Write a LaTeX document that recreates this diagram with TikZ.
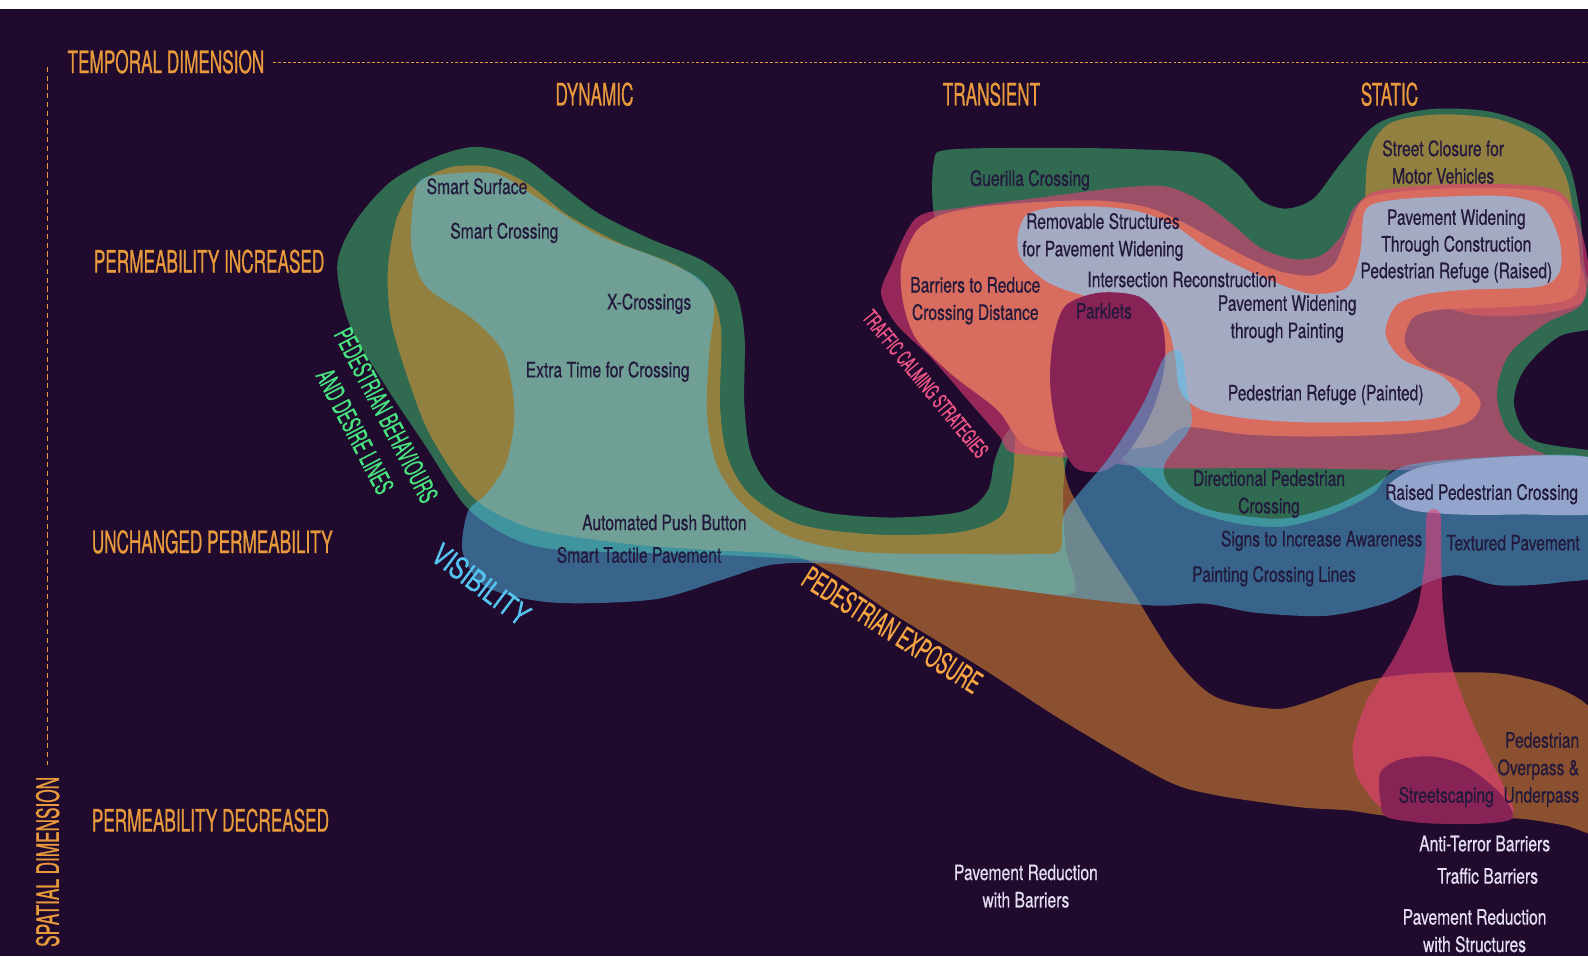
\documentclass[tikz,border=0pt]{standalone}
\usepackage{fontspec}
\setmainfont{TeX Gyre Heros}
\newfontfamily\capfont{TeX Gyre Heros}[FakeStretch=0.556, FakeBold=0.6]
\newfontfamily\txtfont{TeX Gyre Heros}[FakeStretch=0.735, FakeBold=0.5]
\definecolor{bgpurple}{RGB}{32,10,45}
\definecolor{axisorange}{RGB}{232,154,60}
\definecolor{behgreen}{RGB}{68,224,126}
\definecolor{expoorange}{RGB}{245,150,50}
\definecolor{visblue}{RGB}{80,190,235}
\definecolor{calmpink}{RGB}{235,62,122}
\definecolor{salmon}{RGB}{215,108,95}
\definecolor{lavender}{RGB}{165,170,195}
\definecolor{plum}{RGB}{135,35,85}
\definecolor{raisedblue}{RGB}{148,165,205}
\definecolor{txtdark}{RGB}{35,25,60}
\definecolor{txtlight}{RGB}{228,222,242}
\definecolor{lblgreen}{RGB}{72,228,128}
\definecolor{lblpink}{RGB}{240,86,136}
\definecolor{lblblue}{RGB}{86,196,240}
\definecolor{lblorange}{RGB}{245,165,65}
\tikzset{
  axislabel/.style={text=axisorange, font=\capfont\fontsize{8.8}{10}\selectfont, inner sep=0pt},
  item/.style={text=txtdark, font=\txtfont\fontsize{6.05}{7.8}\selectfont, align=center, inner sep=0pt},
  itemlight/.style={item, text=txtlight},
  category/.style={font=\capfont\fontsize{8.64}{10}\selectfont, inner sep=0pt, align=center},
  blob/.style={fill opacity=#1},
}
\begin{document}
\begin{tikzpicture}[x=0.010128cm, y=-0.010128cm]
\useasboundingbox (0,0) rectangle (1568,944);
\clip (0,0) rectangle (1568,944);
\fill[bgpurple] (0,0) rectangle (1568,944);

% pedestrian behaviours and desire lines
\fill[behgreen, blob=0.45] plot[smooth cycle] coordinates {
 (333,262) (350,220) (385,180) (430,155) (470,145) (515,155) (550,180) (590,210)
 (640,235) (695,258) (725,285) (735,330) (735,400) (742,450) (765,485) (810,505)
 (880,511) (950,505) (975,485) (982,455) (992,430) (1010,400) (990,330) (940,260)
 (922,210) (922,160) (935,148) (1020,146) (1110,147) (1190,152) (1222,172) (1245,198)
 (1270,206) (1297,196) (1325,160) (1360,122) (1410,108) (1470,110) (1520,128) (1548,160)
 (1560,210) (1566,270) (1585,300) (1585,322) (1540,332) (1505,365) (1495,400) (1515,435)
 (1585,448) (1585,470) (1450,462) (1380,462) (1356,487) (1316,507) (1267,520) (1217,516)
 (1168,500) (1136,474) (1110,455) (1060,445) (1050,480) (1052,540) (1060,585) (1000,582)
 (910,570) (840,557) (787,552) (687,547) (553,543) (503,530) (460,500) (420,440)
 (380,380) (345,320)};

% pedestrian exposure
\fill[expoorange, blob=0.5] plot[smooth cycle] coordinates {
 (383,265) (392,215) (412,182) (445,165) (485,165) (522,182) (560,212) (612,240)
 (668,262) (700,287) (712,325) (711,400) (718,450) (740,488) (790,518) (870,528)
 (950,525) (990,508) (1000,470) (1003,430) (1012,400) (1040,405) (1048,440) (1055,480)
 (1080,525) (1119,585) (1160,650) (1200,688) (1260,700) (1300,690) (1345,673) (1400,665)
 (1480,665) (1540,680) (1575,705) (1590,760) (1590,825) (1545,815) (1495,808) (1440,812)
 (1365,805) (1330,800) (1283,797) (1200,785) (1150,770) (1050,712) (970,660) (880,605)
 (820,565) (780,548) (700,543) (620,537) (530,523) (478,500) (450,470) (420,420)
 (395,350) (385,310)}
 plot[smooth cycle] coordinates {
 (1348,200) (1352,150) (1372,122) (1420,113) (1480,118) (1525,140) (1548,180) (1556,240)
 (1560,300) (1450,310) (1350,260)};

% traffic calming strategies
\fill[calmpink, blob=0.58] plot[smooth cycle] coordinates {
 (905,215) (950,205) (1020,196) (1100,186) (1150,184) (1185,198) (1215,220) (1245,245)
 (1278,256) (1305,252) (1325,232) (1337,205) (1362,188) (1430,182) (1490,182) (1537,188)
 (1556,212) (1568,260) (1562,300) (1525,320) (1490,350) (1478,390) (1492,430) (1540,455)
 (1575,466) (1500,466) (1380,464) (1250,462) (1140,462) (1060,452) (1000,447) (987,431)
 (960,400) (921,355) (885,320) (870,290) (880,262)};
\fill[salmon] plot[smooth cycle] coordinates {
 (890,262) (905,228) (930,212) (970,204) (1034,199) (1085,198) (1130,204) (1165,218)
 (1198,236) (1231,254) (1264,268) (1296,272) (1318,260) (1332,225) (1345,198) (1375,190)
 (1430,186) (1490,186) (1535,192) (1553,214) (1560,255) (1556,290) (1530,300) (1470,304)
 (1420,306) (1395,314) (1387,338) (1405,360) (1445,378) (1462,398) (1447,418) (1390,428)
 (1300,431) (1230,429) (1170,422) (1140,440) (1060,447) (1012,440) (985,405) (940,370)
 (905,335) (892,300)};
\fill[lavender] plot[smooth cycle] coordinates {
 (1008,255) (1005,232) (1014,212) (1040,205) (1085,204) (1125,209) (1160,223) (1195,248)
 (1230,266) (1262,280) (1295,290) (1330,284) (1343,250) (1348,208) (1372,198) (1430,194)
 (1490,194) (1524,205) (1540,238) (1540,268) (1520,283) (1450,286) (1405,291) (1378,302)
 (1368,330) (1385,355) (1425,372) (1442,395) (1425,411) (1380,416) (1290,417) (1230,413)
 (1185,404) (1165,385) (1160,350) (1150,318) (1120,299) (1075,293) (1035,279)};
% parklets
\fill[plum] plot[smooth cycle] coordinates {
 (1037,380) (1040,335) (1052,302) (1085,289) (1125,293) (1147,318) (1150,360) (1138,405)
 (1115,445) (1090,465) (1062,462) (1045,430)};

% visibility
\fill[visblue, blob=0.5] plot[smooth cycle] coordinates {
 (412,182) (440,172) (490,172) (530,195) (590,232) (650,255) (690,275) (705,300)
 (700,350) (698,410) (708,460) (735,500) (780,530) (850,545) (950,547) (1020,547)
 (1047,543) (1052,505) (1095,452) (1128,400) (1150,352) (1166,348) (1172,385) (1176,420)
 (1150,458) (1155,480) (1185,500) (1217,508) (1267,512) (1316,500) (1356,480) (1382,462)
 (1420,455) (1500,450) (1560,450) (1590,465) (1590,560) (1540,575) (1480,578) (1440,568)
 (1410,575) (1370,595) (1310,608) (1240,605) (1190,596) (1140,598) (1060,590) (960,576)
 (860,562) (810,556) (760,558) (711,573) (645,592) (546,595) (481,580) (457,546)
 (462,505) (480,488) (500,457) (508,407) (498,350) (467,315) (420,282) (406,240)};
% raised crossing
\fill[raisedblue] plot[smooth cycle] coordinates {
 (1372,478) (1400,462) (1450,454) (1510,450) (1565,451) (1585,462) (1585,505) (1500,508)
 (1440,508) (1395,504) (1374,494)};

% stem towards streetscaping
\fill[calmpink, blob=0.58] plot[smooth cycle, tension=0.45] coordinates {
 (1409,507) (1422,507) (1423,553) (1425,602) (1432,652) (1449,701) (1468,743) (1488,783)
 (1494,803) (1470,812) (1400,812) (1363,797) (1340,767) (1336,734) (1350,691) (1375,652)
 (1399,602) (1407,553)};
\fill[plum] plot[smooth cycle] coordinates {
 (1363,763) (1382,750) (1415,747) (1448,757) (1481,783) (1494,807) (1468,813) (1415,813)
 (1370,807) (1363,790)};

\fill[white] (0,0) rectangle (1568,9);

% axes
\draw[axisorange, line width=0.35pt, dash pattern=on 0.8pt off 0.6pt] (270,62) -- (1568,62);
\draw[axisorange, line width=0.35pt, dash pattern=on 1.5pt off 1pt] (47,66) -- (47,755);
\node[axislabel, anchor=west] (temporal) at (66,61) {TEMPORAL DIMENSION};
\node[axislabel, rotate=90] (spatial) at (47,851) {SPATIAL DIMENSION};
\node[axislabel] (dynamic) at (587,93) {DYNAMIC};
\node[axislabel] (transient) at (979,93) {TRANSIENT};
\node[axislabel] (static) at (1372,93) {STATIC};
\node[axislabel, anchor=west] (perminc) at (92,258) {PERMEABILITY INCREASED};
\node[axislabel, anchor=west] (permsame) at (90,535) {UNCHANGED PERMEABILITY};
\node[axislabel, anchor=west] (permdec) at (90,810) {PERMEABILITY DECREASED};

% category names
\node[category, text=lblgreen, font=\capfont\fontsize{7.5}{10}\selectfont, rotate=-62.5] (behaviours) at (366,418) {PEDESTRIAN BEHAVIOURS\\AND DESIRE LINES};
\node[category, text=lblpink, font=\capfont\fontsize{6.05}{7}\selectfont, rotate=-50.5] (calming) at (914,379) {TRAFFIC CALMING STRATEGIES};
\node[category, text=lblblue, rotate=-37] (visibility) at (475,577) {\scalebox{1.35}[1]{VISIBILITY}};
\node[category, text=lblorange, rotate=-32.5] (exposure) at (881,622) {PEDESTRIAN EXPOSURE};

% measures
\node[item] (smartsurface) at (471,184) {Smart Surface};
\node[item] (smartcrossing) at (498,230) {Smart Crossing};
\node[item] (xcross) at (641,300) {X-Crossings};
\node[item] (extratime) at (600,367) {Extra Time for Crossing};
\node[item] (pushbutton) at (656,516) {Automated Push Button};
\node[item] (tactile) at (631,548) {Smart Tactile Pavement};
\node[item] (guerilla) at (1017,178) {Guerilla Crossing};
\node[item] (closure) at (1425,160) {Street Closure for\\Motor Vehicles};
\node[item] (removable) at (1089,234) {Removable Structures\\for Pavement Widening};
\node[item, font=\txtfont\fontsize{6.05}{7.6}\selectfont] (construction) at (1438,243) {Pavement Widening\\Through Construction\\Pedestrian Refuge (Raised)};
\node[item] (intersection) at (1167,276) {Intersection Reconstruction};
\node[item] (barriersreduce) at (963,297) {Barriers to Reduce\\Crossing Distance};
\node[item] (parklets) at (1090,307) {Parklets};
\node[item] (painting) at (1271,315) {Pavement Widening\\through Painting};
\node[item] (refugepainted) at (1309,390) {Pedestrian Refuge (Painted)};
\node[item] (directional) at (1253,488) {Directional Pedestrian\\Crossing};
\node[item] (raised) at (1463,488) {Raised Pedestrian Crossing};
\node[item] (signs) at (1305,534) {Signs to Increase Awareness};
\node[item] (textured) at (1494,536) {Textured Pavement};
\node[item] (lines) at (1258,569) {Painting Crossing Lines};
\node[item, anchor=east, align=right] (overpass) at (1560,760) {Pedestrian\\Overpass \&\\Underpass};
\node[item] (streetscaping) at (1428,787) {Streetscaping};
\node[itemlight] (antiterror) at (1466,833) {Anti-Terror Barriers};
\node[itemlight] (traffic) at (1469,865) {Traffic Barriers};
\node[itemlight] (redstructures) at (1456,919) {Pavement Reduction\\with Structures};
\node[itemlight] (redbarriers) at (1013,875) {Pavement Reduction\\with Barriers};
\end{tikzpicture}
\end{document}
